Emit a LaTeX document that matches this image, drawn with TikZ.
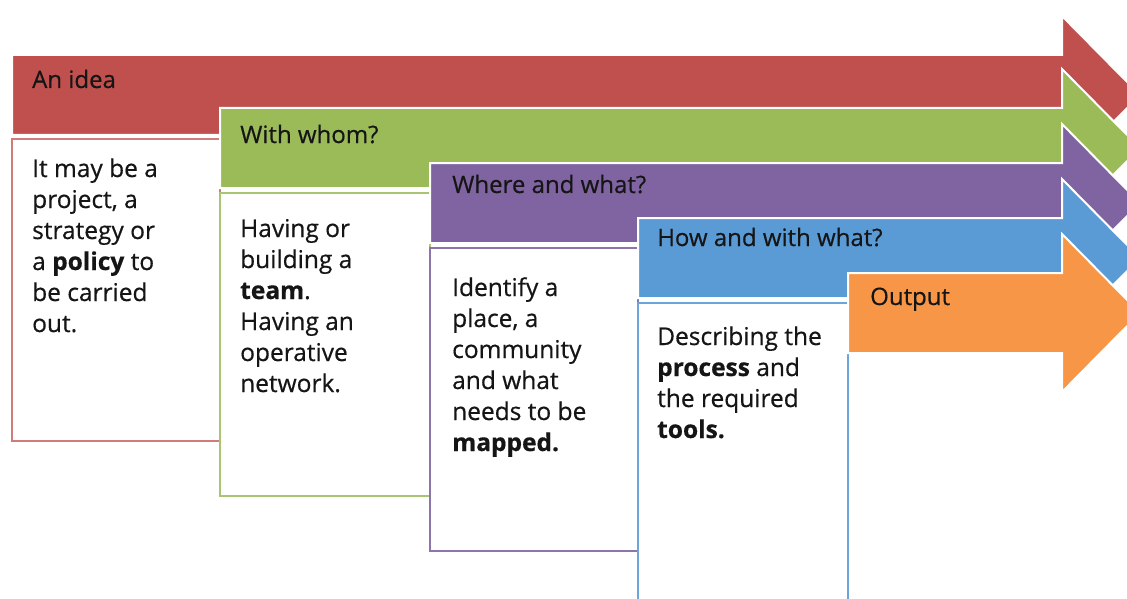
\documentclass[tikz,border=0pt]{standalone}
\usepackage{fontspec}
\setmainfont{Open Sans}[FakeBold=0.5]
\definecolor{cred}{HTML}{C0504D}
\definecolor{cgreen}{HTML}{9BBB59}
\definecolor{cpurple}{HTML}{8064A2}
\definecolor{cblue}{HTML}{5B9BD5}
\definecolor{corange}{HTML}{F79646}
\definecolor{ink}{HTML}{151515}
\newcommand\textlines[1]{\vtop{\baselineskip=31pt\lineskiplimit=-20pt\halign{##\hfil\cr#1\crcr}}}
\newcommand\flowarrow[3]{%
  \draw[white, line width=2pt, fill=#3, line join=miter]
    (#1,#2) -- (1062,#2) -- (1062,#2-39) -- (1140,#2+40) -- (1062,#2+119)
    -- (1062,#2+80) -- (#1,#2+80) -- cycle;}
\tikzset{
  title/.style={anchor=base west, inner sep=0pt, text=ink, font=\fontsize{24}{28}\selectfont},
  body/.style={anchor=base west, inner sep=0pt, text=ink, font=\fontsize{24.5}{31}\selectfont},
  card/.style={draw=#1, line width=2.2pt, fill=white}
}
\begin{document}
\begin{tikzpicture}[x=1pt,y=-1pt]
\useasboundingbox (0,0) rectangle (1127,599);
\clip (0,0) rectangle (1127,599);
\fill[white] (0,0) rectangle (1127,599);

\flowarrow{12}{55}{cred}
\node[title] (t1) at (32,88) {An idea};
\draw[card=cred!75] (12,139) rectangle (220,441);
\node[body] (b1) at (32,177) {\textlines{It may be a\cr project, a\cr strategy or\cr a \textbf{policy} to\cr be carried\cr out.}};

\flowarrow{220}{108}{cgreen}
\node[title] (t2) at (240,143) {With whom?};
\draw[card=cgreen!85] (220,193) rectangle (430,496);
\node[body] (b2) at (240,237) {\textlines{Having or\cr building a\cr \textbf{team}.\cr Having an\cr operative\cr network.}};

\flowarrow{430}{163}{cpurple}
\node[title] (t3) at (452,193) {Where and what?};
\draw[card=cpurple!90] (430,248) rectangle (638,551);
\node[body] (b3) at (452,296) {\textlines{Identify a\cr place, a\cr community\cr and what\cr needs to be\cr \textbf{mapped.}}};

\flowarrow{638}{218}{cblue}
\node[title] (t4) at (657,246) {How and with what?};
\draw[card=cblue!90] (638,303) rectangle (848,640);
\node[body] (b4) at (657,345) {\textlines{Describing the\cr \textbf{process} and\cr the required\cr \textbf{tools.}}};

\flowarrow{848}{273}{corange}
\node[title] (t5) at (870,305) {Output};
\end{tikzpicture}
\end{document}
